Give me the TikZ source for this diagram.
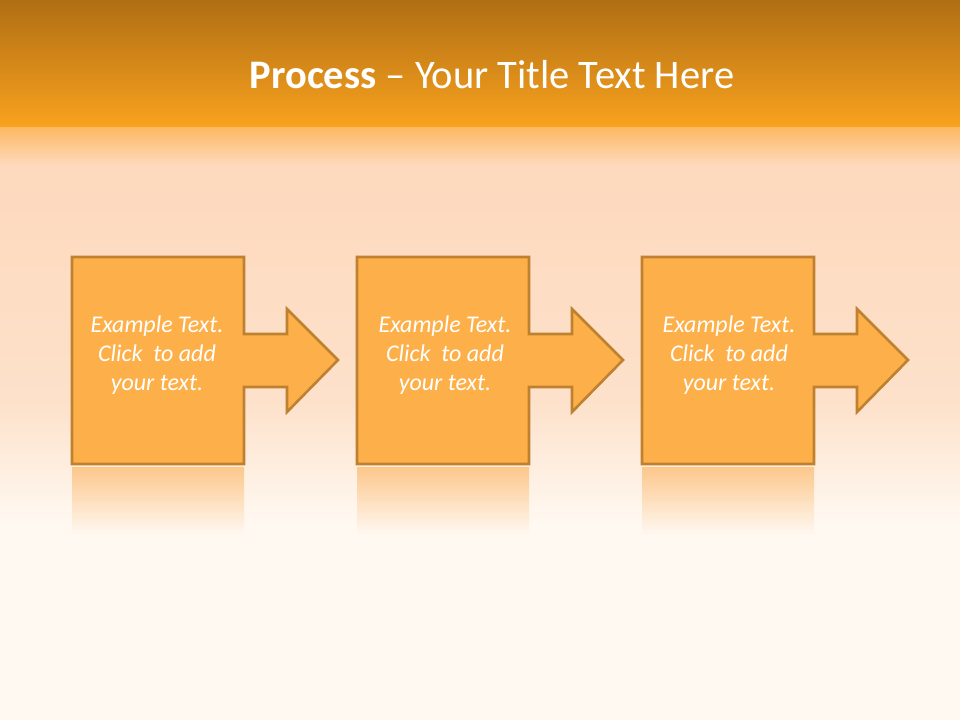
\documentclass[tikz,border=0pt]{standalone}
\usepackage{fontspec,tikz}
\setmainfont{Carlito}
\definecolor{barTop}{HTML}{B06E14}
\definecolor{barBottom}{HTML}{F9A21E}
\definecolor{peach}{HTML}{FDD9BD}
\definecolor{peachLow}{HTML}{FDE1CA}
\definecolor{cream}{HTML}{FFF9F2}
\definecolor{boxFill}{HTML}{FDB049}
\definecolor{boxLine}{HTML}{BF8030}
\definecolor{glow}{HTML}{FCC17E}

\begin{document}
\begin{tikzpicture}[x=1pt,y=-1pt,
  stepshape/.style={fill=boxFill,draw=boxLine,line width=2.6pt,line join=miter},
  mirror/.style={top color=glow,bottom color=cream,draw=none,opacity=0.85},
  boxtext/.style={anchor=base,inner sep=0pt,text=white,font=\fontsize{24.0}{28.8}\selectfont \itshape}]
\path[use as bounding box] (0,0) rectangle (960.0,720.0);
% background
\shade[top color=barTop,bottom color=barBottom] (0,0) rectangle (960,127);
\shade[top color=boxFill!80!peach,bottom color=peach] (0,127) rectangle (960,165);
\shade[top color=peach,bottom color=peachLow] (0,165) rectangle (960,400);
\shade[top color=peachLow,bottom color=cream] (0,400) rectangle (960,525);
\fill[cream] (0,525) rectangle (960,720);
% title
\node[anchor=base,inner sep=0pt,text=white,font=\fontsize{40.5}{48.6}\selectfont] (title) at (492,88) {\textbf{Process} -- Your Title Text Here};
% reflections
\shade[mirror] (72,467) rectangle (244,535);
\shade[mirror] (357,467) rectangle (529,535);
\shade[mirror] (642,467) rectangle (814,535);
% step 1
\draw[stepshape] (72,257) -- (244,257) -- (244,334) -- (287,334) -- (287,309) -- (338,360) -- (287,412) -- (287,387) -- (244,387) -- (244,464) -- (72,464) -- cycle;
\node[boxtext] (stepA1) at (157,332) {Example Text.};
\node[boxtext] (stepA2) at (157,361) {Click\ \ to add};
\node[boxtext] (stepA3) at (157,390) {your text.};
% step 2
\draw[stepshape] (357,257) -- (529,257) -- (529,334) -- (572,334) -- (572,309) -- (623,360) -- (572,412) -- (572,387) -- (529,387) -- (529,464) -- (357,464) -- cycle;
\node[boxtext] (stepB1) at (445,332) {Example Text.};
\node[boxtext] (stepB2) at (445,361) {Click\ \ to add};
\node[boxtext] (stepB3) at (445,390) {your text.};
% step 3
\draw[stepshape] (642,257) -- (814,257) -- (814,334) -- (857,334) -- (857,309) -- (908,360) -- (857,412) -- (857,387) -- (814,387) -- (814,464) -- (642,464) -- cycle;
\node[boxtext] (stepC1) at (729,332) {Example Text.};
\node[boxtext] (stepC2) at (729,361) {Click\ \ to add};
\node[boxtext] (stepC3) at (729,390) {your text.};
\end{tikzpicture}
\end{document}
